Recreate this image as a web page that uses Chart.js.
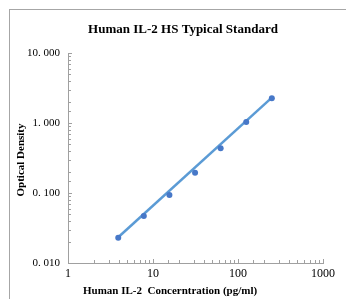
<!DOCTYPE html>
<html><head><meta charset="utf-8">
<script src="https://cdn.jsdelivr.net/npm/chart.js@4"></script>
<style>
html,body{margin:0;padding:0;background:#fff;}
#wrap{position:relative;width:346px;height:299px;overflow:hidden;background:#fff;}
#frame{position:absolute;left:9px;top:9px;width:400px;height:400px;border-top:1px solid #a6a6a6;border-left:1px solid #a6a6a6;}
canvas{position:absolute;left:0;top:0;}
</style></head><body>
<div id="wrap"><div id="frame"></div><canvas id="c" width="346" height="299"></canvas></div>
<script>
const chartTitle = 'Human IL-2 HS Typical Standard';
const xAxisTitle = 'Human IL-2  Concerntration (pg/ml)';
const yAxisTitle = 'Optical Density';
const concentration = [3.9, 7.8, 15.6, 31.25, 62.5, 125, 250];
const opticalDensity = [0.023, 0.047, 0.094, 0.195, 0.435, 1.03, 2.25];
const trendConcentration = [3.9, 250];
const trendOD = [0.0233, 2.3];
const xTickValues = [1, 10, 100, 1000];
const xTickLabels = ['1', '10', '100', '1000'];
const yTickValues = [0.01, 0.1, 1, 10];
const yTickLabels = ['0. 010', '0. 100', '1. 000', '10. 000'];

function sameLog(a, b) { return Math.abs(Math.log10(a) - Math.log10(b)) < 1e-6; }
function labelFor(values, labels) {
  return function (value) {
    const i = values.findIndex(v => sameLog(v, value));
    return i >= 0 ? labels[i] : '';
  };
}
function isDecade(v) { const l = Math.log10(v); return Math.abs(l - Math.round(l)) < 1e-6; }

const decor = {
  id: 'decor',
  afterDraw(chart) {
    const ctx = chart.ctx, xs = chart.scales.x, ys = chart.scales.y;
    ctx.save();
    ctx.strokeStyle = '#a0a0a0';
    ctx.lineWidth = 1;
    ctx.beginPath();
    xs.ticks.forEach(t => {
      const px = Math.round(xs.getPixelForValue(t.value)) + 0.5;
      const len = isDecade(t.value) ? 4 : 3;
      ctx.moveTo(px, ys.bottom);
      ctx.lineTo(px, ys.bottom - len);
    });
    ys.ticks.forEach(t => {
      const py = Math.round(ys.getPixelForValue(t.value)) + 0.5;
      const len = isDecade(t.value) ? 4 : 3;
      ctx.moveTo(xs.left, py);
      ctx.lineTo(xs.left + len, py);
    });
    ctx.stroke();
    ctx.fillStyle = '#000';
    ctx.textBaseline = 'middle';
    ctx.textAlign = 'center';
    ctx.font = 'bold 13px "Liberation Serif"';
    ctx.fillText(chartTitle, 183, 30);
    ctx.font = 'bold 11px "Liberation Serif"';
    ctx.textAlign = 'left';
    ctx.fillText(xAxisTitle, 83, 291);
    ctx.translate(21, 160);
    ctx.rotate(-Math.PI / 2);
    ctx.textAlign = 'center';
    ctx.fillText(yAxisTitle, 0, 0);
    ctx.restore();
  }
};

new Chart(document.getElementById('c'), {
  type: 'scatter',
  data: {
    datasets: [
      {
        data: concentration.map((x, i) => ({ x: x, y: opticalDensity[i] })),
        showLine: false,
        pointRadius: 3,
        pointBackgroundColor: '#4778c8',
        pointBorderColor: '#4778c8',
        pointBorderWidth: 0
      },
      {
        data: trendConcentration.map((x, i) => ({ x: x, y: trendOD[i] })),
        showLine: true,
        pointRadius: 0,
        borderColor: '#5b9bd5',
        borderWidth: 2.5
      }
    ]
  },
  plugins: [decor],
  options: {
    responsive: false,
    devicePixelRatio: 1,
    animation: false,
    layout: { padding: { left: 10, right: 23, top: 53, bottom: 0 } },
    plugins: { legend: { display: false }, tooltip: { enabled: false }, title: { display: false } },
    scales: {
      x: {
        type: 'logarithmic',
        min: 1, max: 1000,
        grid: { display: false, drawTicks: false },
        border: { display: true, color: '#a0a0a0', width: 1 },
        ticks: {
          autoSkip: false, maxRotation: 0, padding: 4,
          color: '#000',
          font: { family: 'Liberation Serif', size: 12 },
          callback: labelFor(xTickValues, xTickLabels)
        },
        afterFit(scale) { scale.height = 36; }
      },
      y: {
        type: 'logarithmic',
        min: 0.01, max: 10,
        grid: { display: false, drawTicks: false },
        border: { display: true, color: '#a0a0a0', width: 1 },
        ticks: {
          autoSkip: false, padding: 8,
          color: '#000',
          font: { family: 'Liberation Serif', size: 11 },
          callback: labelFor(yTickValues, yTickLabels)
        },
        afterFit(scale) { scale.width = 58; }
      }
    }
  }
});
</script>
</body></html>
